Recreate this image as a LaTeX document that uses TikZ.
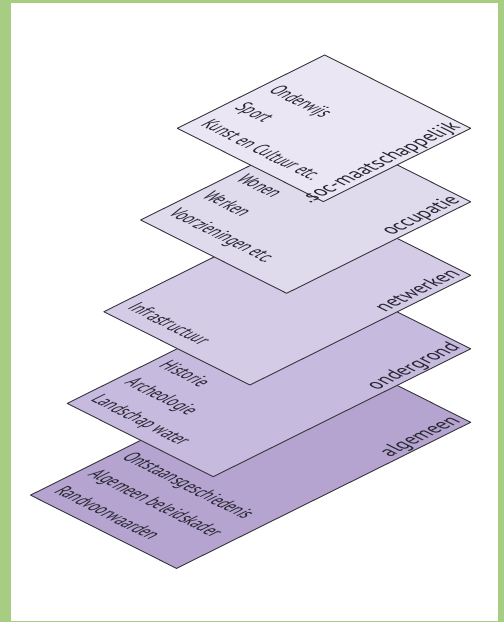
\documentclass[tikz,border=0pt]{standalone}
\usepackage{fontspec}
\setmainfont{PT Sans}
\usetikzlibrary{calc}
\definecolor{framegreen}{RGB}{166,205,130}
\definecolor{layA}{RGB}{234,230,243}
\definecolor{layB}{RGB}{224,218,237}
\definecolor{layC}{RGB}{212,204,230}
\definecolor{layD}{RGB}{198,186,222}
\definecolor{layE}{RGB}{180,164,207}
\definecolor{edgecol}{RGB}{55,52,62}
\definecolor{txtcol}{RGB}{40,38,50}
\tikzset{
  layer/.style={draw=edgecol, line width=0.9pt, line join=round},
  lab/.style={font=\fontsize{10}{12}\selectfont, text=txtcol, inner sep=0pt,
    cm={1.70,0.85,-1.97,0.98,(0,0)}, anchor=base east},
  item/.style={font=\fontsize{10}{12}\selectfont, text=txtcol, inner sep=0pt,
    cm={1.25,-0.625,1.97,0.98,(0,0)}, anchor=base west},
}
\begin{document}
\begin{tikzpicture}[x=1pt,y=-1pt]
\useasboundingbox (0,0) rectangle (504,622);
\fill[framegreen] (0,0) rectangle (504,622);
\fill[white] (11,3) rectangle (498,621);
% vertices
\coordinate (L1) at (177.3,128.3); \coordinate (B1) at (323.3,201.6);
\coordinate (R1) at (470.7,128.3); \coordinate (T1) at (324.7,55.0);
\coordinate (L2) at (140.6,220.0); \coordinate (B2) at (286.6,293.3);
\coordinate (R2) at (470.7,201.8); \coordinate (T2) at (324.7,128.5);
\coordinate (L3) at (103.9,311.7); \coordinate (B3) at (249.9,385.0);
\coordinate (R3) at (470.7,275.3); \coordinate (T3) at (324.7,202.0);
\coordinate (L4) at (67.2,403.4);  \coordinate (B4) at (213.2,476.7);
\coordinate (R4) at (470.7,348.8); \coordinate (T4) at (324.7,275.5);
\coordinate (L5) at (30.5,495.1);  \coordinate (B5) at (176.5,568.4);
\coordinate (R5) at (470.7,422.3); \coordinate (T5) at (324.7,349.0);
% layer 5
\draw[layer, fill=layE] (L5) -- (B5) -- (R5) -- (T5) -- cycle;
\node[lab] (n5) at ($(R5)+(-9,-1)$) {algemeen};
\node[item] (e5a) at ($(L5)+(22.4,-3.1)$) {Randvoorwaarden};
\node[item] (e5b) at ($(L5)+(56.3,-20.1)$) {Algemeen beleidskader};
\node[item] (e5c) at ($(L5)+(90.3,-37.1)$) {Ontstaansgeschiedenis};
% layer 4
\draw[layer, fill=layD] (L4) -- (B4) -- (R4) -- (T4) -- cycle;
\node[lab] (n4) at ($(R4)+(-9,-1)$) {ondergrond};
\node[item] (e4a) at ($(L4)+(22.4,-3.1)$) {Landschap water};
\node[item] (e4b) at ($(L4)+(56.3,-20.1)$) {Archeologie};
\node[item] (e4c) at ($(L4)+(90.3,-37.1)$) {Historie};
% layer 3
\draw[layer, fill=layC] (L3) -- (B3) -- (R3) -- (T3) -- cycle;
\node[lab] (n3) at ($(R3)+(-9,-1)$) {netwerken};
\node[item] (e3a) at ($(L3)+(22.4,-3.1)$) {Infrastructuur};
% layer 2
\draw[layer, fill=layB] (L2) -- (B2) -- (R2) -- (T2) -- cycle;
\node[lab] (n2) at ($(R2)+(-9,-1)$) {occupatie};
\node[item] (e2a) at ($(L2)+(26.4,-6.1)$) {Voorzieningen etc.};
\node[item] (e2b) at ($(L2)+(60.3,-23.1)$) {Werken};
\node[item] (e2c) at ($(L2)+(94.3,-40.1)$) {Wonen};
% layer 1
\draw[layer, fill=layA] (L1) -- (B1) -- (R1) -- (T1) -- cycle;
\node[lab] (n1) at ($(R1)+(-9,-1)$) {.soc-maatschappelijk};
\node[item] (e1a) at ($(L1)+(22.4,-3.1)$) {Kunst en Cultuur etc.};
\node[item] (e1b) at ($(L1)+(56.3,-20.1)$) {Sport};
\node[item] (e1c) at ($(L1)+(90.3,-37.1)$) {Onderwijs};
\end{tikzpicture}
\end{document}
